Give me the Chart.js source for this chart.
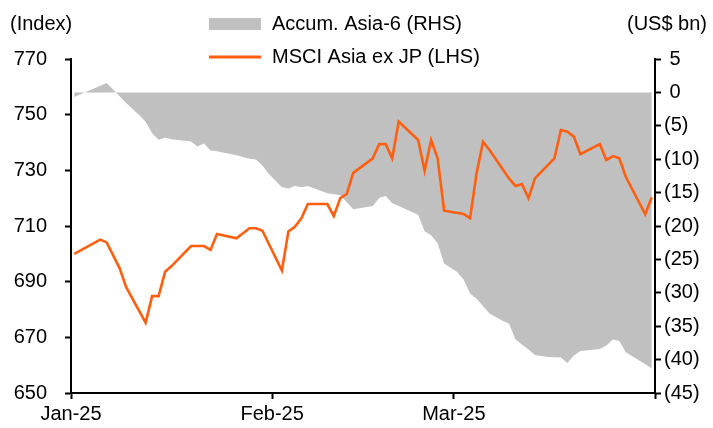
<!DOCTYPE html>
<html>
<head>
<meta charset="utf-8">
<script src="https://cdn.jsdelivr.net/npm/chart.js@4/dist/chart.umd.min.js"></script>
<style>
  html, body { margin: 0; padding: 0; background: #fff; }
  canvas { display: block; }
</style>
</head>
<body>
<canvas id="c" width="713" height="428"></canvas>
<script>
// Day offsets from 1 Jan 2025 (0 = 1 Jan)
const monthTickDays = [-0.5, 30.5, 58.5, 89.5];
const monthTickLabels = ['Jan-25', 'Feb-25', 'Mar-25', ''];

// MSCI Asia ex JP index (LHS)
const msciDay = [0,4,5,7,8,11,12,13,14,15,18,20,21,22,25,27,28,29,32,33,34,35,36,39,40,41,42,43,46,47,48,49,50,53,54,55,56,57,60,61,62,63,64,67,68,69,70,71,74,75,76,77,78,81,82,83,84,85,88,89];
const msciValue = [700,705.1,704.1,694.8,688,675.3,684.8,684.8,693.6,695.6,702.8,702.8,701.4,707.1,705.6,709.2,709.2,708.3,694,708,709.7,712.8,717.9,717.9,713.6,720,721.5,729.1,734.3,739.4,739.4,734.3,747.5,740.9,729.9,740.9,734.3,715.5,714.3,712.8,728.9,740.3,737.3,727.1,724.4,725.1,720,727.1,734.3,744.5,743.9,742.1,735.8,739.4,733.7,735.1,734.3,727.7,714.2,720.3];

// Accumulated Asia-6 flows, US$ bn (RHS)
const flowDay = [0,5,8,10,11,12,13,14,15,18,19,20,21,22,25,27,28,29,30,32,33,34,35,36,39,41,43,46,47,48,49,50,53,54,55,56,57,59,60,61,62,64,66,67,68,70,71,73,75,76,77,78,81,82,83,84,85,89];
const flowValue = [-0.7,1.4,-1.6,-3.4,-4.4,-6.1,-7.1,-6.8,-7.0,-7.35,-8.1,-7.65,-8.7,-8.8,-9.4,-9.95,-10.05,-10.95,-12.2,-14.2,-14.4,-14.0,-14.2,-14.0,-15.1,-15.4,-17.5,-17.0,-15.8,-15.5,-16.6,-17.0,-18.3,-20.8,-21.4,-22.6,-25.6,-26.9,-28.0,-30.1,-30.9,-33.1,-34.2,-34.6,-37.0,-38.5,-39.3,-39.6,-39.7,-40.5,-39.4,-38.7,-38.4,-37.9,-37.0,-37.2,-38.9,-41.3];

const leftTicks = { min: 650, max: 770, step: 20 };
const rightTicks = { min: -45, max: 5, step: 5 };

const FONT = 'Liberation Sans, Arial, sans-serif';
const FSIZE = 20;
const ORANGE = '#FF5F0F';
const GREY = '#C0C0C0';

const msciData = msciDay.map((d, i) => ({ x: d, y: msciValue[i] }));
const flowData = flowDay.map((d, i) => ({ x: d, y: flowValue[i] }));

const overlay = {
  id: 'overlay',
  afterDraw(chart) {
    const ctx = chart.ctx;
    ctx.save();
    ctx.font = FSIZE + 'px ' + FONT;
    ctx.fillStyle = '#000';
    ctx.textBaseline = 'middle';
    ctx.textAlign = 'left';
    ctx.fillText('(Index)', 10, 24);
    ctx.textAlign = 'right';
    ctx.fillText('(US$ bn)', 707, 24);
    // legend
    ctx.textAlign = 'left';
    ctx.fillStyle = GREY;
    ctx.fillRect(209, 18, 52, 12);
    ctx.fillStyle = '#000';
    ctx.fillText('Accum. Asia-6 (RHS)', 272, 24);
    ctx.strokeStyle = ORANGE;
    ctx.lineWidth = 3;
    ctx.beginPath();
    ctx.moveTo(209, 57);
    ctx.lineTo(261, 57);
    ctx.stroke();
    ctx.fillText('MSCI Asia ex JP (LHS)', 272, 57);
    ctx.restore();
  }
};

const axisCommon = {
  grid: { display: true, drawOnChartArea: false, drawTicks: true, tickLength: 6, tickColor: '#000', tickWidth: 2 },
  border: { display: true, color: '#000', width: 2 },
};

new Chart(document.getElementById('c'), {
  type: 'line',
  data: {
    datasets: [
      {
        label: 'MSCI Asia ex JP (LHS)',
        data: msciData,
        yAxisID: 'yL',
        borderColor: ORANGE,
        borderWidth: 2.6,
        pointRadius: 0,
        tension: 0,
        fill: false,
        order: 0
      },
      {
        label: 'Accum. Asia-6 (RHS)',
        data: flowData,
        yAxisID: 'yR',
        borderColor: GREY,
        borderWidth: 0,
        backgroundColor: GREY,
        pointRadius: 0,
        tension: 0,
        fill: 'origin',
        order: 1
      }
    ]
  },
  options: {
    responsive: false,
    animation: false,
    devicePixelRatio: 1,
    layout: { padding: { top: 59, left: 0, right: 0, bottom: 0 } },
    plugins: { legend: { display: false }, tooltip: { enabled: false } },
    scales: {
      x: {
        type: 'linear',
        min: monthTickDays[0],
        max: monthTickDays[monthTickDays.length - 1],
        ...axisCommon,
        afterBuildTicks(scale) { scale.ticks = monthTickDays.map(v => ({ value: v })); },
        afterFit(scale) { scale.height = 35; },
        ticks: {
          autoSkip: false,
          maxRotation: 0,
          padding: 3,
          color: '#000',
          font: { family: FONT, size: FSIZE },
          callback: (v) => { const i = monthTickDays.indexOf(v); return i >= 0 ? monthTickLabels[i] : ''; }
        }
      },
      yL: {
        type: 'linear',
        position: 'left',
        min: leftTicks.min,
        max: leftTicks.max,
        ...axisCommon,
        afterFit(scale) { scale.width = 71; },
        ticks: {
          stepSize: leftTicks.step,
          padding: 18,
          color: '#000',
          font: { family: FONT, size: FSIZE },
          callback: (v) => String(v)
        }
      },
      yR: {
        type: 'linear',
        position: 'right',
        min: rightTicks.min,
        max: rightTicks.max,
        ...axisCommon,
        afterFit(scale) { scale.width = 58; },
        ticks: {
          stepSize: rightTicks.step,
          padding: 3,
          color: '#000',
          font: { family: FONT, size: FSIZE },
          callback: (v) => v < 0 ? '(' + (-v) + ')' : ' ' + v
        }
      }
    }
  },
  plugins: [overlay]
});
</script>
</body>
</html>
